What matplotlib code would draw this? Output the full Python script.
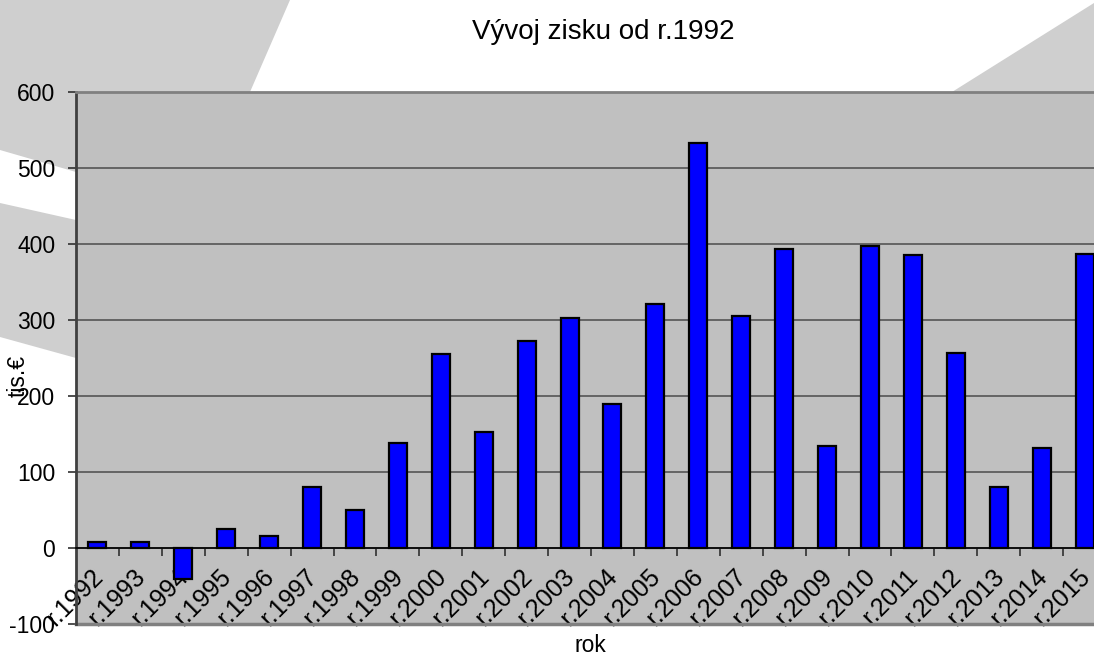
import matplotlib.pyplot as plt
from matplotlib.patches import Polygon
from matplotlib.transforms import ScaledTranslation

years = list(range(1992, 2016))
labels = [f"r.{y}" for y in years]
profit = [8, 8, -41, 25, 16, 80, 50, 138, 255, 152, 272, 303, 190, 321,
          533, 305, 393, 134, 397, 385, 257, 80, 132, 387]

plt.rcParams["font.family"] = ["Liberation Sans", "DejaVu Sans"]
plt.rcParams["axes.unicode_minus"] = False

W, H = 1094, 666
fig = plt.figure(figsize=(W / 100, H / 100), dpi=100)

# grey brush strokes in the background
def px(pts):
    return [(x / W, 1 - y / H) for x, y in pts]

for pts in [
    [(0, 0), (290, 0), (250, 92), (76, 92), (76, 172), (0, 150)],
    [(0, 203), (76, 220), (76, 358), (0, 337)],
    [(952, 92), (1094, 3), (1094, 92)],
]:
    fig.patches.append(Polygon(px(pts), closed=True, transform=fig.transFigure,
                               facecolor="#cfcfcf", edgecolor="none", zorder=-5))

ax = fig.add_axes([76 / W, 1 - 624 / H, 1030 / W, (624 - 92) / H])
ax.set_facecolor("#c0c0c0")

x = list(range(len(years)))
ax.bar(x, profit, width=0.42, color="#0000ff", edgecolor="black",
       linewidth=1.6, zorder=3)

ax.set_xlim(-0.5, len(years) - 0.5)
ax.set_ylim(-100, 600)
ax.set_yticks(range(-100, 601, 100))
ax.tick_params(axis="y", labelsize=16.5, length=6, width=1.2, color="#303030",
               pad=9)
ax.yaxis.grid(True, color="#555555", linewidth=1.2, zorder=1)

# x axis sits on the zero line
ax.spines["bottom"].set_position(("data", 0))
ax.spines["bottom"].set_color("black")
ax.spines["bottom"].set_linewidth(1.2)
ax.spines["bottom"].set_zorder(4)
ax.spines["left"].set_color("#404040")
ax.spines["left"].set_linewidth(2)
ax.spines["top"].set_color("#808080")
ax.spines["top"].set_linewidth(2)
ax.spines["right"].set_visible(False)
ax.axhline(-100, color="#808080", linewidth=2.5, zorder=2, clip_on=False)

ax.set_xticks(x)
ax.set_xticklabels(labels, rotation=45, ha="right", rotation_mode="anchor",
                   fontsize=18)
ax.tick_params(axis="x", which="major", length=0, pad=12)
shift = ScaledTranslation(-0.07, 0, fig.dpi_scale_trans)
for lab in ax.get_xticklabels():
    lab.set_transform(lab.get_transform() + shift)
ax.set_xticks([i + 0.5 for i in x[:-1]], minor=True)
ax.tick_params(axis="x", which="minor", length=6, width=1.2, color="#303030")

fig.text(603 / W, 1 - 32 / H, "Vývoj zisku od r.1992", ha="center",
         va="center", fontsize=20)
fig.text(590 / W, 1 - 646 / H, "rok", ha="center", va="center", fontsize=16.5)
fig.text(18 / W, 1 - 376 / H, "tis.€", ha="center", va="center",
         rotation=90, fontsize=16.5)

fig.savefig("out.png", dpi=100)
